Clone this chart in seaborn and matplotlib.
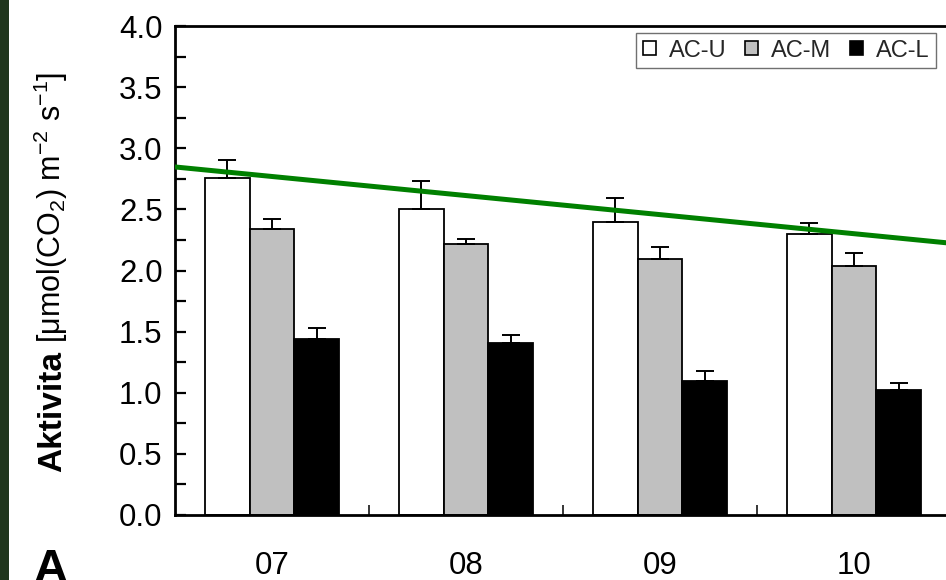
import numpy as np
import pandas as pd
import matplotlib
matplotlib.use("Agg")
import matplotlib.pyplot as plt
from matplotlib.patches import Rectangle
from matplotlib.transforms import offset_copy
import seaborn as sns

# Monthly activity per site (mean and standard error)
months = ["07", "08", "09", "10"]
series = ["AC-U", "AC-M", "AC-L"]
ac_u = [2.76, 2.50, 2.40, 2.30]
ac_m = [2.34, 2.22, 2.09, 2.04]
ac_l = [1.44, 1.41, 1.10, 1.02]
err_u = [0.14, 0.23, 0.19, 0.09]
err_m = [0.08, 0.04, 0.10, 0.10]
err_l = [0.09, 0.06, 0.08, 0.06]
# Trend line level at each month
trend = [2.77, 2.61, 2.46, 2.30]
yticks = [0.0, 0.5, 1.0, 1.5, 2.0, 2.5, 3.0, 3.5, 4.0]

colors = ["white", "#c0c0c0", "black"]

sns.set_theme(style="white")
plt.rcParams["font.family"] = ["Liberation Sans", "DejaVu Sans"]
plt.rcParams["mathtext.fontset"] = "custom"
plt.rcParams["mathtext.rm"] = "Liberation Sans"
plt.rcParams["mathtext.it"] = "Liberation Sans:italic"
plt.rcParams["mathtext.bf"] = "Liberation Sans:bold"

df = pd.DataFrame({
    "month": months * 3,
    "series": [s for s in series for _ in months],
    "value": ac_u + ac_m + ac_l,
})
errs = {"AC-U": err_u, "AC-M": err_m, "AC-L": err_l}

W, H = 946, 580
fig = plt.figure(figsize=(W / 100, H / 100), dpi=100)
ax = fig.add_axes([175 / W, 65 / H, 776 / W, 489 / H])

sns.barplot(data=df, x="month", y="value", hue="series", order=months,
            hue_order=series, palette=colors, saturation=1, width=0.69,
            edgecolor="black", linewidth=1.3, errorbar=None, ax=ax, zorder=2)

# One-sided (upper) error bars on each bar
for cont, name in zip(ax.containers, series):
    xs = [b.get_x() + b.get_width() / 2 for b in cont]
    hs = [b.get_height() for b in cont]
    e = errs[name]
    ax.errorbar(xs, hs, yerr=[np.zeros(len(e)), e], fmt="none",
                ecolor="black", elinewidth=1.4, capsize=6.8, capthick=1.4,
                zorder=3)

# Linear trend across the months
slope, icpt = np.polyfit(np.arange(len(months)), trend, 1)
ax.axline((0, icpt), slope=slope, color="#008000", lw=3.6, zorder=5)

ax.set_xlim(-0.5, 3.5)
ax.set_ylim(0, 4.0)
ax.set_yticks(yticks)
ax.set_yticklabels([f"{v:.1f}" for v in yticks])
ax.set_yticks(np.arange(0.25, 4.0, 0.5), minor=True)
ax.set_xticks([0.5, 1.5, 2.5], minor=True)
ax.tick_params(axis="y", which="both", direction="in", length=8, width=1.6,
               labelsize=22.5, pad=9, left=True, colors="black")
ax.tick_params(axis="x", which="major", length=0, labelsize=22.5, pad=26,
               colors="black")
ax.tick_params(axis="x", which="minor", direction="in", length=7, width=1.3,
               bottom=True)
ax.set_xlabel("")
ax.set_ylabel("")

for side in ["left", "bottom", "top"]:
    ax.spines[side].set_visible(True)
    ax.spines[side].set_color("black")
    ax.spines[side].set_linewidth(2.0)
ax.spines["right"].set_visible(False)

# Axis title: bold quantity name followed by the unit, read bottom to top
t_name = fig.text(61 / W, 1 - 472 / H, "Aktivita", fontsize=24,
                  fontweight="bold", rotation=90, rotation_mode="anchor",
                  ha="left", va="baseline", color="black")
fig.canvas.draw()
name_box = t_name.get_window_extent()
unit_tr = offset_copy(fig.transFigure, fig=fig, x=0, y=8, units="dots")
fig.text(61 / W, name_box.y1 / H, r"[μmol(CO$_2$) m$^{-2}$ s$^{-1}$]",
         fontsize=22, rotation=90, rotation_mode="anchor", ha="left",
         va="baseline", color="black", transform=unit_tr)

handles, labels = ax.get_legend_handles_labels()
ax.get_legend().remove()
leg = fig.legend(handles, labels, loc="upper left",
                 bbox_to_anchor=(636 / W, 1 - 33 / H), ncol=3,
                 fontsize=17, frameon=True, fancybox=False, framealpha=1,
                 edgecolor="#707070", handlelength=0.55, handleheight=0.55,
                 handletextpad=0.55, columnspacing=0.8, borderpad=0.28,
                 borderaxespad=0)
leg.get_frame().set_linewidth(1.0)
for h in leg.legend_handles:
    h.set_edgecolor("black")
    h.set_linewidth(1.2)

# Panel letter and the dark strip along the left edge
fig.text(34 / W, 1 - 548 / H, "A", fontsize=34, fontweight="bold",
         ha="left", va="top", color="black")
fig.patches.append(Rectangle((0, 0), 9 / W, 1, transform=fig.transFigure,
                             facecolor="#1f351c", edgecolor="none"))

fig.savefig("out.png", dpi=100)
